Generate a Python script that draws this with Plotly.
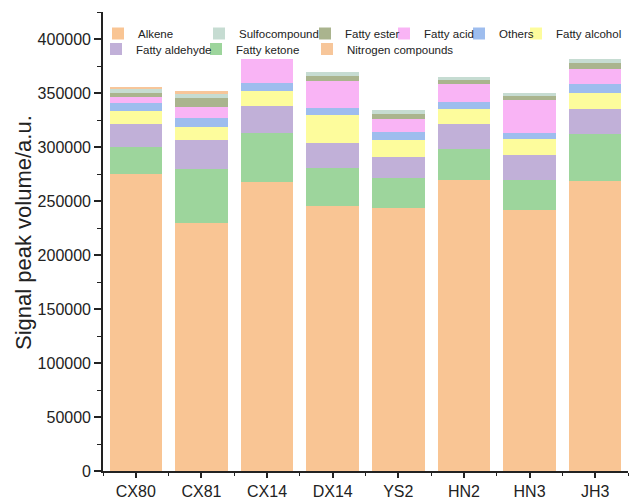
import plotly.graph_objects as go

categories = ["CX80", "CX81", "CX14", "DX14", "YS2", "HN2", "HN3", "JH3"]

alkene = [274600, 229800, 267400, 245800, 243700, 269000, 242100, 268400]
fatty_ketone = [25300, 50100, 45900, 35000, 27800, 28800, 27800, 43900]
fatty_aldehyde = [21000, 26200, 24600, 23200, 19500, 23100, 22300, 22600]
fatty_alcohol = [12400, 12300, 13900, 25300, 15400, 14600, 14800, 15500]
others = [7300, 8100, 7800, 7100, 7400, 6100, 6300, 8300]
fatty_acid = [6000, 10900, 21600, 24700, 12400, 17100, 30200, 13300]
fatty_ester = [3800, 8300, 0, 4600, 4000, 3300, 3700, 5500]
sulfocompound = [3900, 3100, 0, 3800, 4000, 2800, 2500, 3700]
nitrogen = [500, 3000, 0, 0, 0, 0, 0, 0]

y_ticks = [0, 50000, 100000, 150000, 200000, 250000, 300000, 350000, 400000]
y_minor = [25000, 75000, 125000, 175000, 225000, 275000, 325000, 375000, 425000]

# the page puts the figure 8 px in from the top-left corner of the window
OFF = 8
W, H = 641 - OFF, 503 - OFF
ML, MR, MT, MB = 95, 13, 4, 32

# name, values, colour, legend id, legend text-start px (x), legend row centre px (y) in window
series = [
    ("Alkene", alkene, "#f9c594", "legend", 139, 33.5),
    ("Fatty ketone", fatty_ketone, "#9dd59c", "legend8", 237, 49),
    ("Fatty aldehyde", fatty_aldehyde, "#c1b0d8", "legend7", 137, 49),
    ("Fatty alcohol", fatty_alcohol, "#fdfc9c", "legend6", 557, 33.5),
    ("Others", others, "#9ebdee", "legend5", 500, 33.5),
    ("Fatty acid", fatty_acid, "#f9b4f5", "legend4", 425, 33.5),
    ("Fatty ester", fatty_ester, "#aab48e", "legend3", 346, 33.5),
    ("Sulfocompound", sulfocompound, "#c6dcd2", "legend2", 240, 33.5),
    ("Nitrogen compounds", nitrogen, "#f7c69a", "legend9", 348, 49),
]

font = "Liberation Sans, Arial, sans-serif"
xpos = list(range(len(categories)))
fig = go.Figure()
legend_layout = {}
for name, vals, color, lg, tx, ty in series:
    fig.add_trace(go.Bar(
        x=xpos, y=vals, name=name, marker_color=color,
        marker_line_width=0, width=0.8, legend=lg,
    ))
    legend_layout[lg] = dict(
        xref="container", yref="container",
        x=(tx - OFF - 41) / W, y=1 - (ty - OFF) / H, xanchor="left", yanchor="middle",
        font=dict(size=11.5, family=font, color="#222"),
        bgcolor="rgba(255,255,255,0)", itemwidth=30,
    )

plot_h = H - MT - MB
plot_w = W - ML - MR
title_x = (23 - OFF - ML) / plot_w
title_y = (H - MB - (232 - OFF)) / plot_h

fig.update_layout(
    barmode="stack",
    width=W, height=H,
    margin=dict(l=ML, r=MR, t=MT, b=MB, autoexpand=False),
    paper_bgcolor="white", plot_bgcolor="white",
    font=dict(family=font, color="#222", size=16),
    showlegend=True,
    annotations=[dict(
        text="Signal peak volume/a.u.", xref="paper", yref="paper",
        x=title_x, y=title_y, xanchor="center", yanchor="middle",
        textangle=-90, showarrow=False, font=dict(size=22, family=font, color="#222"),
    )],
    **legend_layout,
)
fig.update_xaxes(
    range=[-0.5, 7.5], tickmode="array", tickvals=xpos, ticktext=categories,
    automargin=False,
    showline=True, linecolor="#222", linewidth=1.6, showgrid=False, zeroline=False,
    ticks="outside", ticklen=5, tickwidth=1.5, tickcolor="#222",
    tickfont=dict(size=16),
    minor=dict(tickmode="array", tickvals=[i + 0.5 for i in range(-1, len(categories))],
               ticks="outside", ticklen=3, tickwidth=1.3, tickcolor="#222"),
)
fig.update_yaxes(
    range=[0, 425000], tickmode="array", tickvals=y_ticks,
    ticktext=[str(v) for v in y_ticks], automargin=False,
    showline=True, linecolor="#222", linewidth=1.6, showgrid=False, zeroline=False,
    ticks="outside", ticklen=7, tickwidth=1.5, tickcolor="#222",
    tickfont=dict(size=16),
    minor=dict(tickmode="array", tickvals=y_minor,
               ticks="outside", ticklen=4, tickwidth=1.3, tickcolor="#222"),
)
fig.write_html("out.html")
